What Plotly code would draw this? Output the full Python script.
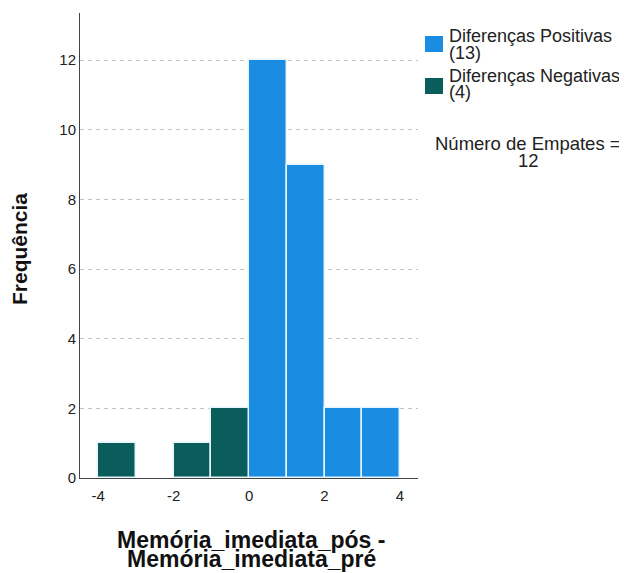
import plotly.graph_objects as go

# Data
neg_centers = [-3.5, -1.5, -0.5]
neg_counts = [1, 1, 2]
pos_centers = [0.5, 1.5, 2.5, 3.5]
pos_counts = [12, 9, 2, 2]
bin_width = 1
pos_label = ["Diferenças Positivas", "(13)"]
neg_label = ["Diferenças Negativas", "(4)"]
ties_label = ["Número de Empates =", "12"]
x_title = ["Memória_imediata_pós -", "Memória_imediata_pré"]
y_title = "Frequência"
x_ticks = [-4, -2, 0, 2, 4]
x_ticktext = ["-4", "-2", "0", "2", "4"]
y_ticks = [0, 2, 4, 6, 8, 10, 12]

POS_COLOR = "#1a8de2"
NEG_COLOR = "#0b5d5c"
EDGE = "#e6f4fb"
FONT = "Liberation Sans, Arial, sans-serif"

# the page body has an 8px margin; design in reference-pixel coordinates
OFF = 8
W, H = 627 - OFF, 573 - OFF
L, R, T, B = 80 - OFF, 627 - 418, 13 - OFF, 573 - 478
PW, PH = W - L - R, H - T - B


def px_x(p):
    return (p - OFF - L) / PW


def px_y(p):
    return (H - B - (p - OFF)) / PH


fig = go.Figure()
fig.add_trace(go.Bar(x=pos_centers, y=pos_counts, width=bin_width, name=pos_label[0],
                     marker=dict(color=POS_COLOR, line=dict(color=EDGE, width=1.5)),
                     hovertemplate="%{x}: %{y}<extra></extra>"))
fig.add_trace(go.Bar(x=neg_centers, y=neg_counts, width=bin_width, name=neg_label[0],
                     marker=dict(color=NEG_COLOR, line=dict(color=EDGE, width=1.5)),
                     hovertemplate="%{x}: %{y}<extra></extra>"))

# manual legend (tight line spacing like the original)
for color, (top, bot) in [(POS_COLOR, (36, 52)), (NEG_COLOR, (78, 94))]:
    fig.add_shape(type="rect", xref="paper", yref="paper",
                  x0=px_x(425), x1=px_x(443), y0=px_y(bot), y1=px_y(top),
                  fillcolor=color, line=dict(width=0))

LEG_FONT = dict(family=FONT, size=18, color="#222")
for txt, cy in [(pos_label[0], 36), (pos_label[1], 53), (neg_label[0], 75.5), (neg_label[1], 92)]:
    fig.add_annotation(text=txt, xref="paper", yref="paper", x=px_x(447), y=px_y(cy),
                       xanchor="left", yanchor="middle", showarrow=False, font=LEG_FONT)

for txt, cy in [(ties_label[0], 143.5), (ties_label[1], 161)]:
    fig.add_annotation(text=txt, xref="paper", yref="paper", x=px_x(528), y=px_y(cy),
                       xanchor="center", yanchor="middle", showarrow=False,
                       font=dict(family=FONT, size=18.5, color="#222"))

# axis titles
TITLE_FONT = dict(family=FONT, size=23, color="#111")
for txt, cy in [(x_title[0], 539.5), (x_title[1], 559)]:
    fig.add_annotation(text="<b>" + txt + "</b>", xref="paper", yref="paper",
                       x=px_x(251), y=px_y(cy), xanchor="center", yanchor="middle",
                       showarrow=False, font=TITLE_FONT)
fig.add_annotation(text="<b>" + y_title + "</b>", xref="paper", yref="paper",
                   x=px_x(19), y=px_y(249), xanchor="center", yanchor="middle",
                   textangle=-90, showarrow=False, font=dict(family=FONT, size=21, color="#111"))

fig.update_layout(
    width=W, height=H,
    margin=dict(l=L, r=R, t=T, b=B),
    paper_bgcolor="white", plot_bgcolor="white",
    font=dict(family=FONT, size=15, color="#222"),
    bargap=0,
    showlegend=False,
    xaxis=dict(range=[-4.485, 4.48], tickvals=x_ticks, ticktext=x_ticktext,
               showgrid=False, zeroline=False, automargin=False,
               showline=True, linecolor="#444", linewidth=1, ticks="",
               ticklabelstandoff=4,
               tickfont=dict(family=FONT, size=15, color="#222")),
    yaxis=dict(range=[0, 13.35], tickvals=y_ticks, showgrid=True, gridcolor="#c4c4c4",
               griddash="4px,4px", zeroline=False, showline=True, linecolor="#444",
               linewidth=1, ticks="", automargin=False,
               tickfont=dict(family=FONT, size=15, color="#222")),
)

fig.write_html("out.html")
